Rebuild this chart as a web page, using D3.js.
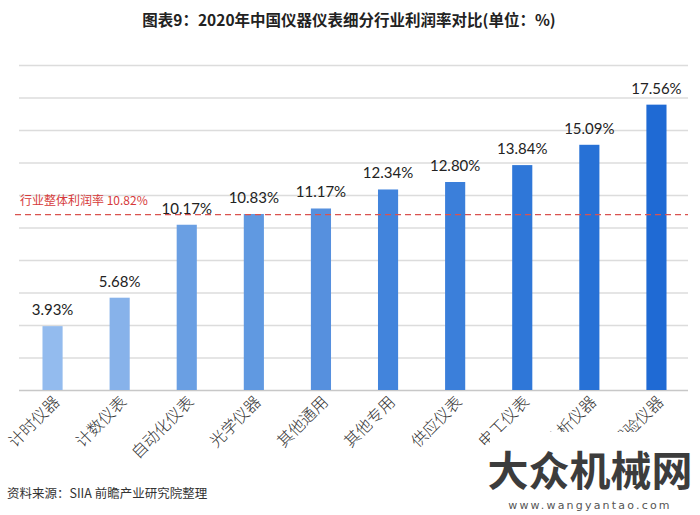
<!DOCTYPE html>
<html>
<head>
<meta charset="utf-8">
<script src="https://cdn.jsdelivr.net/npm/d3@7"></script>
<style>
  body { margin: 0; background: #fff; }
  svg { display: block; }
</style>
</head>
<body>
<script>
var categories = ["计时仪器", "计数仪表", "自动化仪表", "光学仪器", "其他通用", "其他专用", "供应仪表", "电工仪表", "分析仪器", "试验仪器"];
var values = [3.93, 5.68, 10.17, 10.83, 11.17, 12.34, 12.80, 13.84, 15.09, 17.56];
var yTicks = [0, 2, 4, 6, 8, 10, 12, 14, 16, 18, 20];
var avgRate = 10.82;
var barColors = ["#93bbee", "#87b2ea", "#6a9fe3", "#6099e1", "#5690de", "#4284dc", "#3b7fda", "#2f77d8", "#2771d6", "#1f6ad4"];

var width = 700,
  height = 515;

var svg = d3.select('body')
  .append('svg')
  .attr('width', width)
  .attr('height', height);

var xScale = d3.scaleBand()
  .domain(categories)
  .range([19, 690])
  .paddingInner(0.7)
  .paddingOuter(0.35);

var yScale = d3.scaleLinear()
  .domain([0, 20])
  .range([390, 65]);

// title
svg.append('text')
  .attr('x', 349)
  .attr('y', 26)
  .attr('text-anchor', 'middle')
  .style('font-family', '"Noto Sans CJK SC", sans-serif')
  .style('font-size', '15.5px')
  .style('font-weight', 'bold')
  .style('fill', '#222')
  .text('图表9：2020年中国仪器仪表细分行业利润率对比(单位：%)');

// gridlines
svg.append('g')
  .selectAll('line')
  .data(yTicks)
  .enter()
  .append('line')
  .attr('x1', 19)
  .attr('x2', 688)
  .attr('y1', d => yScale(d) + 0.5)
  .attr('y2', d => yScale(d) + 0.5)
  .style('stroke', d => d === 0 ? '#c8c8c8' : '#dcdcdc')
  .style('stroke-width', 1.5);

// bars
svg.selectAll('rect.bar')
  .data(values)
  .enter()
  .append('rect')
  .attr('class', 'bar')
  .attr('x', (d, i) => xScale(categories[i]))
  .attr('y', d => yScale(d))
  .attr('width', xScale.bandwidth())
  .attr('height', d => yScale(0) - yScale(d))
  .style('fill', (d, i) => barColors[i]);

// value labels
svg.selectAll('text.val')
  .data(values)
  .enter()
  .append('text')
  .attr('class', 'val')
  .attr('x', (d, i) => xScale(categories[i]) + xScale.bandwidth() / 2)
  .attr('y', d => yScale(d) - 11)
  .attr('text-anchor', 'middle')
  .style('font-family', 'Lato, "Open Sans", sans-serif')
  .style('font-size', '15px')
  .style('fill', '#222')
  .text(d => d.toFixed(2) + '%');

// average line
svg.append('line')
  .attr('x1', 15)
  .attr('x2', 688)
  .attr('y1', yScale(avgRate) + 0.5)
  .attr('y2', yScale(avgRate) + 0.5)
  .style('stroke', '#d9534f')
  .style('stroke-width', 1.2)
  .style('stroke-dasharray', '6,4');

svg.append('text')
  .attr('x', 20)
  .attr('y', yScale(avgRate) - 9)
  .style('font-family', '"Noto Sans CJK SC", sans-serif')
  .style('font-size', '12px')
  .style('fill', '#d63a3a')
  .text('行业整体利润率 10.82%');

// category labels
var xAxis = d3.axisBottom(xScale).tickSize(0).tickPadding(0);
var xg = svg.append('g')
  .attr('transform', 'translate(0,390)')
  .call(xAxis);
xg.select('.domain').remove();
xg.selectAll('text')
  .attr('text-anchor', 'end')
  .attr('dy', 0)
  .attr('transform', 'translate(8,13) rotate(-45)')
  .style('font-family', '"Noto Sans CJK SC", sans-serif')
  .style('font-size', '16px')
  .style('font-weight', '300')
  .style('fill', '#333');

// source
svg.append('text')
  .attr('x', 7)
  .attr('y', 498)
  .style('font-family', '"Noto Sans CJK SC", sans-serif')
  .style('font-size', '12.5px')
  .style('fill', '#333')
  .text('资料来源：SIIA 前瞻产业研究院整理');

// site stamp over the corner
svg.append('rect')
  .attr('x', 490)
  .attr('y', 432)
  .attr('width', 210)
  .attr('height', 83)
  .style('fill', '#fff');

svg.append('text')
  .attr('x', 590)
  .attr('y', 486)
  .attr('text-anchor', 'middle')
  .style('font-family', '"Noto Sans CJK SC", sans-serif')
  .style('font-size', '41px')
  .style('font-weight', 'bold')
  .style('fill', '#3c3c3c')
  .text('大众机械网');

svg.append('text')
  .attr('x', 590)
  .attr('y', 509)
  .attr('text-anchor', 'middle')
  .style('font-family', '"DejaVu Sans", sans-serif')
  .style('font-size', '11px')
  .style('letter-spacing', '2.2px')
  .style('fill', '#555')
  .text('www.wangyantao.com');
</script>
</body>
</html>
